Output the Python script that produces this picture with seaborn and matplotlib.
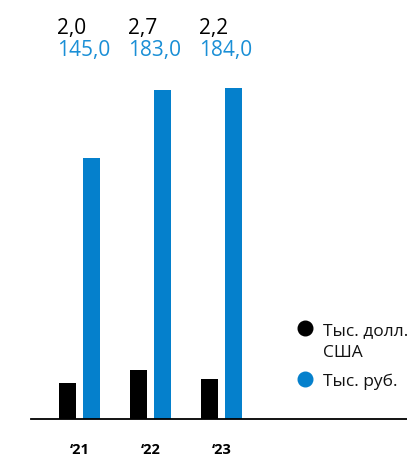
import matplotlib
matplotlib.use("Agg")
import matplotlib.pyplot as plt
from matplotlib.lines import Line2D
import seaborn as sns
import pandas as pd

years = ["\u201821", "\u201822", "\u201823"]
usd_values = [2.0, 2.7, 2.2]          # тыс. долл. США
rub_values = [145.0, 183.0, 184.0]    # тыс. руб.
series_names = ["Тыс. долл.\nСША", "Тыс. руб."]

BLACK = "#000000"
BLUE = "#0580CC"
BLUE_TEXT = "#1A8FD6"

sns.set_theme(style="white")
plt.rcParams["font.family"] = ["Open Sans", "DejaVu Sans"]

# bar centres: each pair sits either side of its year position
OFFSET = 0.169
BAR_W = 0.24
usd_df = pd.DataFrame({"pos": [i - OFFSET for i in range(len(years))], "value": usd_values})
rub_df = pd.DataFrame({"pos": [i + OFFSET for i in range(len(years))], "value": rub_values})

W, H = 407, 456
fig = plt.figure(figsize=(W / 100, H / 100), dpi=100)
ax = fig.add_axes([31 / W, 36 / H, 376 / W, 360 / H])
ax2 = ax.twinx()

sns.barplot(data=rub_df, x="pos", y="value", native_scale=True, width=BAR_W,
            color=BLUE, saturation=1, errorbar=None, linewidth=0, ax=ax)
sns.barplot(data=usd_df, x="pos", y="value", native_scale=True, width=BAR_W,
            color=BLACK, saturation=1, errorbar=None, linewidth=0, ax=ax2)

ax.set_ylim(0, 200)
ax2.set_ylim(0, 20)
ax.set_xlim(-0.683, 4.613)
ax2.set_xlim(-0.683, 4.613)

for a in (ax, ax2):
    a.set_yticks([])
    a.set_ylabel("")
    a.set_xlabel("")
    for side in ("top", "left", "right", "bottom"):
        a.spines[side].set_visible(False)
ax.spines["bottom"].set_visible(True)
ax.spines["bottom"].set_color(BLACK)
ax.spines["bottom"].set_linewidth(1.3)

ax.set_xticks(range(len(years)))
ax.set_xticklabels(years, fontsize=10.5, fontweight="bold", color=BLACK)
ax.tick_params(axis="x", length=0, pad=16.5)
ax2.tick_params(axis="x", length=0)

# value labels above the chart
trans = matplotlib.transforms.blended_transform_factory(ax.transData, fig.transFigure)
for i, (u, r) in enumerate(zip(usd_values, rub_values)):
    ax.text(i - 0.31, 1 - 34 / H, f"{u:.1f}".replace(".", ","), transform=trans,
            ha="left", va="baseline", fontsize=15, color=BLACK)
    ax.text(i - 0.31, 1 - 56 / H, f"{r:.1f}".replace(".", ","), transform=trans,
            ha="left", va="baseline", fontsize=15, color=BLUE_TEXT)

# legend
for name, color, y in [(series_names[0], BLACK, 329), (series_names[1], BLUE, 380)]:
    fig.add_artist(Line2D([305 / W], [1 - y / H], marker="o", markersize=10.5,
                          color=color, linestyle="none", transform=fig.transFigure))
    first, *rest = name.split("\n")
    fig.text(323 / W, 1 - (y + 6) / H, first, ha="left", va="baseline",
             fontsize=12.5, color="#111111")
    for k, line in enumerate(rest, start=1):
        fig.text(323 / W, 1 - (y + 6 + 22 * k) / H, line, ha="left", va="baseline",
                 fontsize=12.5, color="#111111")

fig.savefig("out.png", dpi=100)
